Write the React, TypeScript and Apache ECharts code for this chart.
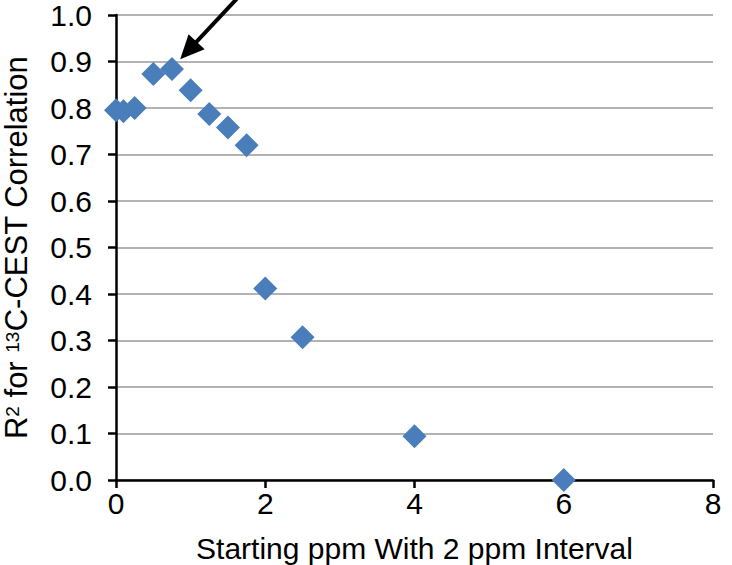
import React, { useEffect, useRef } from "react";
import * as echarts from "echarts";

const xValues = [0, 0.1, 0.25, 0.5, 0.75, 1, 1.25, 1.5, 1.75, 2, 2.5, 4, 6];
const yValues = [0.795, 0.793, 0.8, 0.873, 0.884, 0.838, 0.787, 0.758, 0.72, 0.412, 0.307, 0.094, 0.0];
const arrowStart = [1.62, 1.035];
const arrowTip = [0.86, 0.905];

export default function App() {
  const ref = useRef<HTMLDivElement>(null);
  useEffect(() => {
    if (!ref.current) return;
    const chart = echarts.init(ref.current, undefined, { renderer: "svg" });
    const font = "'Liberation Sans', Arial, sans-serif";
    chart.setOption({
      animation: false,
      grid: { left: 116, right: 19, top: 15, bottom: 85, containLabel: false, outerBoundsMode: "none" },
      xAxis: {
        type: "value",
        min: 0,
        max: 8,
        interval: 2,
        name: "Starting ppm With 2 ppm Interval",
        nameLocation: "middle",
        nameGap: 53,
        nameTextStyle: { fontFamily: font, fontSize: 30, color: "#000" },
        axisLine: { lineStyle: { color: "#000", width: 2.5 } },
        axisTick: { show: true, length: 8, lineStyle: { color: "#000", width: 2.5 } },
        axisLabel: { fontFamily: font, fontSize: 30, color: "#000", margin: 8 },
        splitLine: { show: false },
      },
      yAxis: {
        type: "value",
        min: 0,
        max: 1,
        interval: 0.1,
        name: "{a|R}{s|2}{a| for }{s|13}{a|C-CEST Correlation}",
        nameLocation: "middle",
        nameGap: 87,
        nameRotate: 90,
        nameTextStyle: {
          fontFamily: font,
          fontSize: 31,
          color: "#000",
          rich: {
            a: { fontFamily: font, fontSize: 31, color: "#000", lineHeight: 26 },
            s: { fontFamily: font, fontSize: 19, color: "#000", lineHeight: 26, verticalAlign: "top" },
          },
        },
        axisLine: { show: true, lineStyle: { color: "#000", width: 2.5 } },
        axisTick: { show: true, length: 8, lineStyle: { color: "#000", width: 2.5 } },
        axisLabel: {
          fontFamily: font,
          fontSize: 30,
          color: "#000",
          margin: 24,
          formatter: (v: number) => v.toFixed(1),
        },
        splitLine: { show: true, lineStyle: { color: "#b3b3b3", width: 2 } },
      },
      series: [
        {
          type: "scatter",
          data: xValues.map((x, i) => [x, yValues[i]]),
          symbol: "diamond",
          symbolSize: 24,
          itemStyle: { color: "#4a7ebb", opacity: 1 },
          clip: false,
        },
      ],
    });
    const s = chart.convertToPixel({ gridIndex: 0 }, arrowStart) as number[];
    const t = chart.convertToPixel({ gridIndex: 0 }, arrowTip) as number[];
    const dx = t[0] - s[0];
    const dy = t[1] - s[1];
    const len = Math.sqrt(dx * dx + dy * dy);
    const ux = dx / len;
    const uy = dy / len;
    const headLen = 24;
    const headHalf = 11;
    const bx = t[0] - ux * headLen;
    const by = t[1] - uy * headLen;
    chart.setOption({
      graphic: [
        {
          type: "line",
          shape: { x1: s[0], y1: s[1], x2: bx + ux * 2, y2: by + uy * 2 },
          style: { stroke: "#000", lineWidth: 4 },
          z: 100,
        },
        {
          type: "polygon",
          shape: {
            points: [
              [t[0], t[1]],
              [bx - uy * headHalf, by + ux * headHalf],
              [bx + uy * headHalf, by - ux * headHalf],
            ],
          },
          style: { fill: "#000" },
          z: 100,
        },
      ],
    });
    return () => chart.dispose();
  }, []);
  return (
    <div
      ref={ref}
      style={{ position: "absolute", left: 0, top: 0, width: 732, height: 565 }}
    />
  );
}
